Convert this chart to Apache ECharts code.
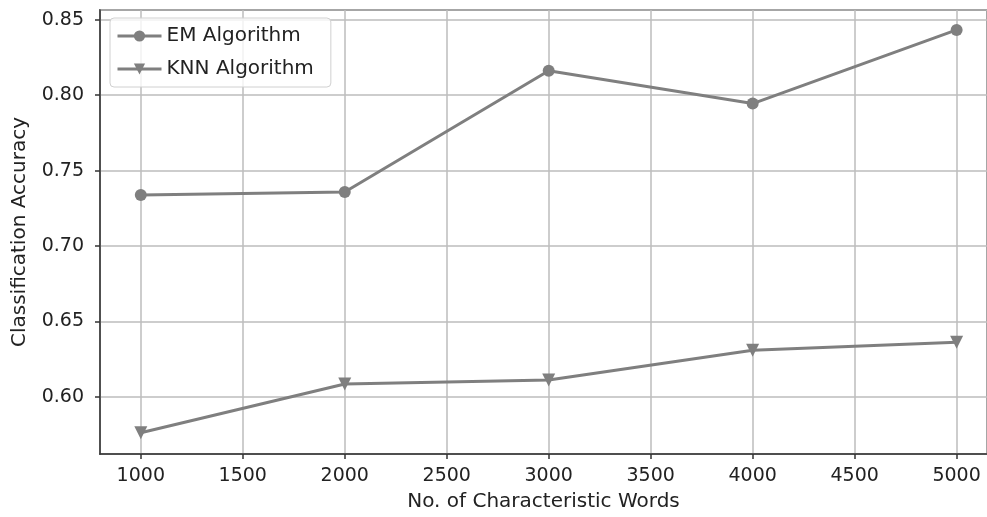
<!DOCTYPE html>
<html>
<head>
<meta charset="utf-8">
<script src="https://cdn.jsdelivr.net/npm/echarts@6/dist/echarts.min.js"></script>
<style>html,body{margin:0;padding:0;background:#fff}#c{width:987px;height:517px}</style>
</head>
<body>
<div id="c"></div>
<script>
var words = [1000, 2000, 3000, 4000, 5000];
var emAccuracy = [0.7338, 0.7358, 0.8162, 0.7944, 0.8432];
var knnAccuracy = [0.5763, 0.6086, 0.6112, 0.6310, 0.6363];
var seriesNames = ['EM Algorithm', 'KNN Algorithm'];

var font = 'DejaVu Sans';
var gray = '#7f7f7f';
function pairs(xs, ys) { return xs.map(function (x, i) { return [x, ys[i]]; }); }

var chart = echarts.init(document.getElementById('c'), null, {renderer: 'canvas'});
chart.setOption({
  animation: false,
  backgroundColor: '#ffffff',
  grid: {left: 100, right: 0, top: 10, bottom: 60, show: true, borderColor: '#333', borderWidth: 1.5, backgroundColor: 'transparent'},
  legend: {
    orient: 'vertical', left: 110, top: 18,
    data: seriesNames,
    itemWidth: 44, itemHeight: 14, itemGap: 13,
    padding: [8, 17, 8, 6],
    backgroundColor: 'rgba(255,255,255,0.8)',
    borderColor: '#d0d0d0', borderWidth: 1, borderRadius: 4,
    lineStyle: {width: 3},
    textStyle: {fontFamily: font, fontSize: 20, color: '#222'}
  },
  xAxis: {
    type: 'value', min: 800, max: 5149, splitNumber: 9,
    name: 'No. of Characteristic Words', nameLocation: 'middle', nameGap: 38,
    nameTextStyle: {fontFamily: font, fontSize: 20, color: '#222'},
    axisLine: {lineStyle: {color: '#333', width: 1.5}},
    axisTick: {show: true, length: 5, lineStyle: {color: '#333', width: 1.5}},
    axisLabel: {fontFamily: font, fontSize: 19, color: '#222', margin: 13, showMinLabel: false, showMaxLabel: false,
      formatter: function (v) { return String(v); }},
    splitLine: {show: true, lineStyle: {color: '#bdbdbd', width: 1.5}}
  },
  yAxis: {
    type: 'value', min: 0.5622, max: 0.8564, splitNumber: 5,
    name: 'Classification Accuracy', nameLocation: 'middle', nameGap: 70, nameRotate: 90,
    nameTextStyle: {fontFamily: font, fontSize: 20, color: '#222'},
    axisLine: {show: true, lineStyle: {color: '#333', width: 1.5}},
    axisTick: {show: true, length: 5, lineStyle: {color: '#333', width: 1.5}},
    axisLabel: {fontFamily: font, fontSize: 19, color: '#222', margin: 16, showMinLabel: false, showMaxLabel: false,
      formatter: function (v) { return v.toFixed(2); }},
    splitLine: {show: true, lineStyle: {color: '#bdbdbd', width: 1.5}}
  },
  series: [
    {name: seriesNames[0], type: 'line', data: pairs(words, emAccuracy),
      symbol: 'circle', symbolSize: 12, itemStyle: {color: gray}, lineStyle: {color: gray, width: 3}},
    {name: seriesNames[1], type: 'line', data: pairs(words, knnAccuracy),
      symbol: 'triangle', symbolRotate: 180, symbolSize: 13, itemStyle: {color: gray}, lineStyle: {color: gray, width: 3}}
  ]
});
</script>
</body>
</html>
